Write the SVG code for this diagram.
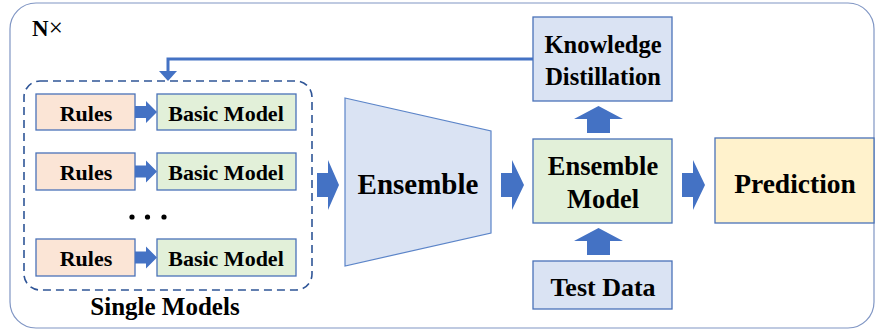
<svg xmlns="http://www.w3.org/2000/svg" width="876" height="330" viewBox="0 0 876 330">
<defs>
<style>
.box{stroke:#4a72b8;stroke-width:1.3}
.rules{fill:#fbe5d6}
.basic{fill:#e2f0d9}
.blue{fill:#dae3f3}
.yellow{fill:#fff2cc}
.arr{fill:#4472c4}
</style>
</defs>
<rect width="876" height="330" fill="#fff"/>
<rect id="frame" x="10" y="3" width="864" height="325" rx="26" fill="none" stroke="#8096c4" stroke-width="1.2"/>
<text x="32" y="36" font-size="23" font-family="Liberation Serif" font-weight="bold" style="font-family:'Liberation Serif',serif">N<tspan font-weight="normal" font-size="25">×</tspan></text>

<g id="single-models">
<rect x="24" y="81" width="288" height="209" rx="16" fill="none" stroke="#2f5597" stroke-width="1.6" stroke-dasharray="8,5"/>
<text x="165" y="315" font-size="25" font-family="Liberation Serif" font-weight="bold" text-anchor="middle" style="font-family:'Liberation Serif',serif">Single Models</text>
</g>
<g id="rules1"><rect class="box rules" x="36" y="94" width="99" height="36"/><text x="86" y="120.5" font-size="22" font-family="Liberation Serif" font-weight="bold" text-anchor="middle" style="font-family:'Liberation Serif',serif">Rules</text></g>
<g id="basic1"><rect class="box basic" x="157" y="94" width="139" height="36"/><text x="226" y="120.5" font-size="22" font-family="Liberation Serif" font-weight="bold" text-anchor="middle" style="font-family:'Liberation Serif',serif">Basic Model</text></g>
<g id="rules2"><rect class="box rules" x="36" y="153" width="99" height="37"/><text x="86" y="179.5" font-size="22" font-family="Liberation Serif" font-weight="bold" text-anchor="middle" style="font-family:'Liberation Serif',serif">Rules</text></g>
<g id="basic2"><rect class="box basic" x="157" y="153" width="139" height="37"/><text x="226" y="179.5" font-size="22" font-family="Liberation Serif" font-weight="bold" text-anchor="middle" style="font-family:'Liberation Serif',serif">Basic Model</text></g>
<g id="dots" fill="#000"><circle cx="132" cy="217" r="2.6"/><circle cx="147.5" cy="217" r="2.6"/><circle cx="164" cy="217" r="2.6"/></g>
<g id="rules3"><rect class="box rules" x="36" y="239" width="99" height="37"/><text x="86" y="265.5" font-size="22" font-family="Liberation Serif" font-weight="bold" text-anchor="middle" style="font-family:'Liberation Serif',serif">Rules</text></g>
<g id="basic3"><rect class="box basic" x="157" y="239" width="139" height="37"/><text x="226" y="265.5" font-size="22" font-family="Liberation Serif" font-weight="bold" text-anchor="middle" style="font-family:'Liberation Serif',serif">Basic Model</text></g>

<g id="ensemble"><path d="M345,98 L491,131 L491,233 L345,266 Z" fill="#dae3f3" stroke="#5b84c8" stroke-width="1.2"/><text x="418" y="194" font-size="29" font-family="Liberation Serif" font-weight="bold" text-anchor="middle" style="font-family:'Liberation Serif',serif">Ensemble</text></g>
<g id="kd"><rect class="box blue" x="533" y="17" width="139" height="84"/><text x="603" y="53" font-size="24.5" font-family="Liberation Serif" font-weight="bold" text-anchor="middle" style="font-family:'Liberation Serif',serif">Knowledge</text><text x="603" y="85" font-size="24.5" font-family="Liberation Serif" font-weight="bold" text-anchor="middle" style="font-family:'Liberation Serif',serif">Distillation</text></g>
<g id="ensemble-model"><rect class="box basic" x="533" y="139" width="139" height="84"/><text x="603" y="175" font-size="26.5" font-family="Liberation Serif" font-weight="bold" text-anchor="middle" style="font-family:'Liberation Serif',serif">Ensemble</text><text x="603" y="208" font-size="26.5" font-family="Liberation Serif" font-weight="bold" text-anchor="middle" style="font-family:'Liberation Serif',serif">Model</text></g>
<g id="test-data"><rect class="box blue" x="533" y="261" width="139" height="48"/><text x="603" y="296" font-size="26" font-family="Liberation Serif" font-weight="bold" text-anchor="middle" style="font-family:'Liberation Serif',serif">Test Data</text></g>
<g id="prediction"><rect class="box yellow" x="715" y="138" width="159" height="85"/><text x="795" y="193" font-size="27.5" font-family="Liberation Serif" font-weight="bold" text-anchor="middle" style="font-family:'Liberation Serif',serif">Prediction</text></g>

<g id="connectors">
<path class="arr" d="M135,106 L146,106 L146,101 L157,112 L146,123 L146,118 L135,118 Z"/>
<path class="arr" d="M135,165.5 L146,165.5 L146,160.5 L157,171.5 L146,182.5 L146,177.5 L135,177.5 Z"/>
<path class="arr" d="M135,251.5 L146,251.5 L146,246.5 L157,257.5 L146,268.5 L146,263.5 L135,263.5 Z"/>
<path class="arr" d="M317,173 L328,173 L328,160 L339,185 L328,210 L328,197 L317,197 Z"/>
<path class="arr" d="M501,173 L512,173 L512,160 L524,185 L512,210 L512,197 L501,197 Z"/>
<path class="arr" d="M682,173 L693,173 L693,160 L705,185 L693,210 L693,197 L682,197 Z"/>
<path class="arr" d="M587,133 L587,119 L574,119 L598.5,106 L623,119 L610,119 L610,133 Z"/>
<path class="arr" d="M587,255 L587,241 L574,241 L598.5,228 L623,241 L610,241 L610,255 Z"/>
<path d="M533,59 L168,59 L168,72" fill="none" stroke="#4472c4" stroke-width="3"/>
<path class="arr" d="M159,71 L177,71 L168,81 Z"/>
</g>
</svg>
